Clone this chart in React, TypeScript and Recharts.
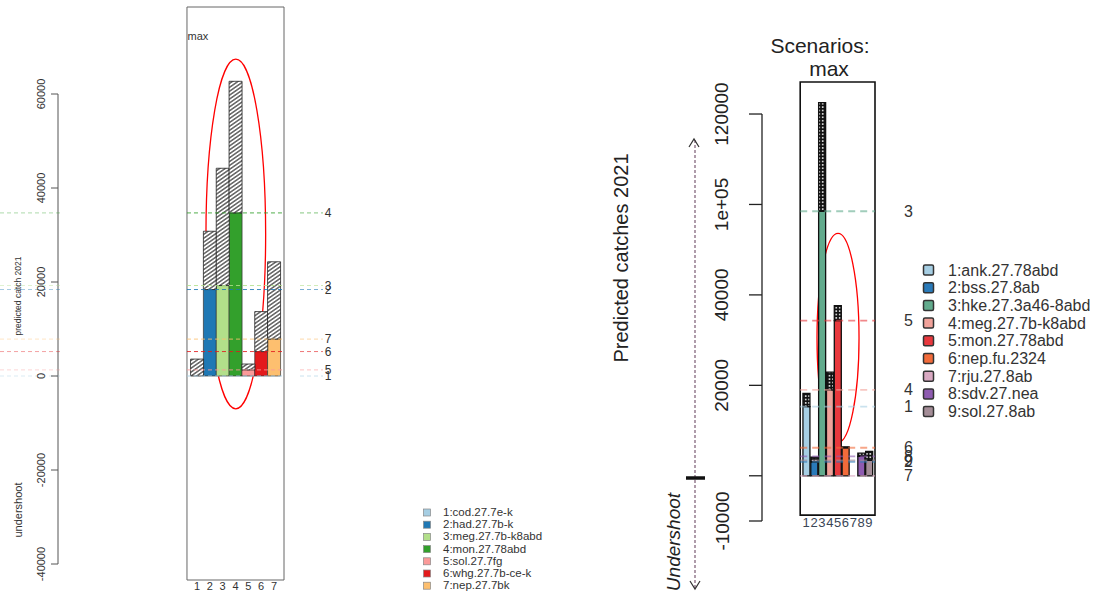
import React from "react";
import { BarChart, Bar, XAxis, YAxis, Cell, ReferenceLine, ReferenceArea } from "recharts";

const FONT = '"Liberation Sans", Arial, Helvetica, sans-serif';

// ---- left panel: Celtic Sea stocks ----
const leftStocks = ["cod.27.7e-k", "had.27.7b-k", "meg.27.7b-k8abd", "mon.27.78abd", "sol.27.7fg", "whg.27.7b-ce-k", "nep.27.7bk"];
const leftColors = ["#A6CEE3", "#1F78B4", "#B2DF8A", "#33A02C", "#FB9A99", "#E31A1C", "#FDBF6F"];
const leftAdvice = [0, 18400, 19250, 34700, 1300, 5200, 7850];
const leftPredicted = [3600, 30800, 44200, 62700, 2550, 13700, 24300];
const leftTicks = [-40000, -20000, 0, 20000, 40000, 60000];

// ---- right panel: Bay of Biscay stocks ----
const rightStocks = ["ank.27.78abd", "bss.27.8ab", "hke.27.3a46-8abd", "meg.27.7b-k8abd", "mon.27.78abd", "nep.fu.2324", "rju.27.8ab", "sdv.27.nea", "sol.27.8ab"];
const rightColors = ["#A6CEE3", "#2A7AB9", "#62AB8D", "#F1A29A", "#E8383D", "#F26B3A", "#D9A9C2", "#8E5BB0", "#A48D97"];
const rightAdvice = [15300, 3100, 98500, 19000, 34300, 6200, 0, 4300, 3400];
const rightPredicted = [18200, 4100, 122500, 22900, 37600, 6400, 0, 5000, 5400];
const rightTicks = [-10000, 0, 20000, 40000, 100000, 120000];
const rightTickLabels = ["-10000", "", "20000", "40000", "1e+05", "120000"];

// right y axis is broken: 40000..80000 is cut out
const GAP_FROM = 40000;
const GAP_SIZE = 40000;
const squeeze = (v: number) => (v > GAP_FROM ? v - GAP_SIZE : v);

// barplot layout (R: space = 0 on the left, space = 0.2 on the right)
const leftData = leftStocks.map((s, i) => ({
  x: i + 0.5,
  tick: String(i + 1),
  advice: leftAdvice[i],
  over: leftPredicted[i] - leftAdvice[i],
}));
const rightData = rightStocks.map((s, i) => ({
  x: 0.7 + 1.2 * i,
  tick: String(i + 1),
  advice: squeeze(rightAdvice[i]),
  over: squeeze(rightPredicted[i]) - squeeze(rightAdvice[i]),
}));

const LX: [number, number] = [-10.33, 7.28];
const LY: [number, number] = [-43404, 78511];
const LBOX: [number, number] = [-0.28, 7.28];
const RX: [number, number] = [-6.07, 11.224];
const RY: [number, number] = [-10000, 87080];
const RBOX: [number, number] = [-0.224, 11.224];

const LeftYTick = (props: any) => {
  const { x, y, payload } = props;
  const tx = x - 3.5;
  return (
    <text x={tx} y={y} transform={`rotate(-90 ${tx} ${y})`} textAnchor="middle" fontSize={11} fill="#333" fontFamily={FONT}>
      {payload.value}
    </text>
  );
};

const LeftXTick = (props: any) => {
  const { x, y, payload } = props;
  const d = leftData.find((r) => Math.abs(r.x - payload.value) < 1e-6);
  return (
    <text x={x} y={y + 8} textAnchor="middle" fontSize={11} fill="#333" fontFamily={FONT}>
      {d ? d.tick : ""}
    </text>
  );
};

const RightYTick = (props: any) => {
  const { x, y, payload } = props;
  const idx = rightTicks.findIndex((t) => squeeze(t) === payload.value);
  const tx = x - 18.5;
  return (
    <text x={tx} y={y} transform={`rotate(-90 ${tx} ${y})`} textAnchor="middle" fontSize={19} fill="#222" fontFamily={FONT}>
      {idx >= 0 ? rightTickLabels[idx] : ""}
    </text>
  );
};

const RightXTick = (props: any) => {
  const { x, y, payload } = props;
  const d = rightData.find((r) => Math.abs(r.x - payload.value) < 1e-6);
  return (
    <text x={x} y={y + 4} textAnchor="middle" fontSize={13} fill="#3a4656" fontFamily={FONT}>
      {d ? d.tick : ""}
    </text>
  );
};

// number tag to the right of each advice line (left panel also has short dashes outside)
const leftTag = (num: string, color: string) => (p: any) => {
  const vb = p.viewBox || {};
  const end = vb.x + vb.width;
  return (
    <g>
      <line x1={0} x2={62} y1={vb.y} y2={vb.y} stroke={color} strokeOpacity={0.4} strokeDasharray="4 3" />
      <line x1={end + 16} x2={end + 39} y1={vb.y} y2={vb.y} stroke={color} strokeOpacity={0.6} strokeDasharray="4 3" />
      <text x={end + 44} y={vb.y + 4} textAnchor="middle" fontSize={12} fill="#333" fontFamily={FONT}>
        {num}
      </text>
    </g>
  );
};

const rightTag = (num: string) => (p: any) => {
  const vb = p.viewBox || {};
  const end = vb.x + vb.width;
  return (
    <text x={end + 33.5} y={vb.y + 5.5} textAnchor="middle" fontSize={16} fill="#333" fontFamily={FONT}>
      {num}
    </text>
  );
};

const ellipseShape = (p: any) => (
  <ellipse cx={p.x + p.width / 2} cy={p.y + p.height / 2} rx={p.width / 2} ry={p.height / 2} fill="none" stroke="#FF0000" strokeWidth={1.3} />
);

function LeftPanel() {
  return (
    <div style={{ position: "absolute", left: 0, top: 0 }}>
      <BarChart width={345} height={604} data={leftData} margin={{ top: 7, right: 61, bottom: 4, left: 0 }} barCategoryGap={0}>
        <defs>
          <pattern id="hatchL" patternUnits="userSpaceOnUse" width="4" height="3.2" patternTransform="rotate(-35)">
            <rect width="4" height="3.2" fill="#fff" />
            <line x1="0" y1="1.6" x2="4" y2="1.6" stroke="#111" strokeWidth="1" />
          </pattern>
        </defs>
        <XAxis type="number" dataKey="x" domain={LX} ticks={leftData.map((d) => d.x)} allowDataOverflow axisLine={false} tickLine={false} tickSize={0} height={20} interval={0} tick={LeftXTick} />
        <YAxis type="number" domain={LY} ticks={leftTicks} allowDataOverflow axisLine={false} tickLine={{ stroke: "#555" }} tickSize={7} width={58} interval={0} tick={LeftYTick} />
        <ReferenceArea x1={LBOX[0]} x2={LBOX[1]} y1={LY[0]} y2={LY[1]} fill="none" stroke="#666" strokeWidth={1} ifOverflow="visible" />
        <ReferenceLine segment={[{ x: LX[0], y: leftTicks[0] }, { x: LX[0], y: leftTicks[leftTicks.length - 1] }]} stroke="#555" ifOverflow="visible" />
        <Bar dataKey="advice" stackId="s" stroke="#333" strokeWidth={0.7} isAnimationActive={false}>
          {leftData.map((d, i) => (
            <Cell key={`la-${i}`} fill={leftColors[i]} />
          ))}
        </Bar>
        <Bar dataKey="over" stackId="s" fill="url(#hatchL)" stroke="#222" strokeWidth={0.8} isAnimationActive={false} />
        {leftAdvice.map((v, i) => (
          <ReferenceLine
            key={`ll-${i}`}
            segment={[{ x: LBOX[0], y: v }, { x: LBOX[1], y: v }]}
            stroke={leftColors[i]}
            strokeOpacity={0.85}
            strokeDasharray="4 3"
            ifOverflow="visible"
            label={leftTag(String(i + 1), leftColors[i])}
          />
        ))}
        <ReferenceArea x1={1.2} x2={5.85} y1={-7000} y2={67400} shape={ellipseShape} ifOverflow="visible" />
      </BarChart>
    </div>
  );
}

function RightPanel() {
  return (
    <div style={{ position: "absolute", left: 600, top: 0 }}>
      <BarChart width={500} height={604} data={rightData} margin={{ top: 82, right: 225, bottom: 63, left: 0 }} barCategoryGap="8%">
        <defs>
          <pattern id="dotsR" patternUnits="userSpaceOnUse" width="3.4" height="3.4">
            <rect width="3.4" height="3.4" fill="#111" />
            <circle cx="1.7" cy="1.7" r="0.95" fill="#fff" />
          </pattern>
        </defs>
        <XAxis type="number" dataKey="x" domain={RX} ticks={rightData.map((d) => d.x)} allowDataOverflow axisLine={false} tickLine={false} tickSize={0} height={20} interval={0} tick={RightXTick} />
        <YAxis type="number" domain={RY} ticks={rightTicks.map(squeeze)} allowDataOverflow axisLine={false} tickLine={{ stroke: "#222", strokeWidth: 1.3 }} tickSize={13} width={162} interval={0} tick={RightYTick} />
        <ReferenceArea x1={RBOX[0]} x2={RBOX[1]} y1={-8700} y2={RY[1]} fill="none" stroke="#111" strokeWidth={1.6} ifOverflow="visible" />
        <ReferenceLine segment={[{ x: RX[0], y: squeeze(rightTicks[0]) }, { x: RX[0], y: squeeze(rightTicks[rightTicks.length - 1]) }]} stroke="#222" strokeWidth={1.3} ifOverflow="visible" />
        <Bar dataKey="advice" stackId="s" stroke="#111" strokeWidth={1.3} isAnimationActive={false}>
          {rightData.map((d, i) => (
            <Cell key={`ra-${i}`} fill={rightColors[i]} />
          ))}
        </Bar>
        <Bar dataKey="over" stackId="s" fill="url(#dotsR)" stroke="#111" strokeWidth={1.3} isAnimationActive={false} />
        {rightAdvice.map((v, i) => (
          <ReferenceLine
            key={`rl-${i}`}
            segment={[{ x: RBOX[0], y: squeeze(v) }, { x: RBOX[1], y: squeeze(v) }]}
            stroke={rightColors[i]}
            strokeOpacity={0.6}
            strokeWidth={1.8}
            strokeDasharray="7 5"
            ifOverflow="visible"
            label={rightTag(String(i + 1))}
          />
        ))}
        <ReferenceArea x1={2.35} x2={8.78} y1={7370} y2={squeeze(93600)} shape={ellipseShape} ifOverflow="visible" />
      </BarChart>
    </div>
  );
}

function Overlay() {
  const rot = (x: number, y: number) => `rotate(-90 ${x} ${y})`;
  return (
    <svg width={1100} height={604} style={{ position: "absolute", left: 0, top: 0, pointerEvents: "none" }} fontFamily={FONT}>
      {/* left panel texts */}
      <text x={187.5} y={40} fontSize={11} fill="#333">max</text>
      <text x={21} y={296} transform={rot(21, 296)} textAnchor="middle" fontSize={8.5} fill="#333">predicted catch 2021</text>
      <text x={22} y={510} transform={rot(22, 510)} textAnchor="middle" fontSize={11} fill="#333">undershoot</text>
      {leftStocks.map((s, i) => (
        <g key={`lg-${i}`}>
          <rect x={423.5} y={509 + 12.2 * i} width={7} height={7} fill={leftColors[i]} stroke="#888" strokeWidth={0.7} />
          <text x={443} y={516 + 12.2 * i} fontSize={11.5} fill="#333">{`${i + 1}:${s}`}</text>
        </g>
      ))}

      {/* right panel texts */}
      <text x={820} y={53} textAnchor="middle" fontSize={21} fill="#222">Scenarios:</text>
      <text x={829} y={76} textAnchor="middle" fontSize={21} fill="#222">max</text>
      <text x={628} y={258} transform={rot(628, 258)} textAnchor="middle" fontSize={20} fill="#222">Predicted catches 2021</text>
      <line x1={695} y1={140} x2={695} y2={588} stroke="#7b5a72" strokeWidth={1.2} strokeDasharray="3 2" />
      <polyline points="689,147 694,139 699,147" fill="none" stroke="#333" strokeWidth={1.2} />
      <polyline points="690,581 695,589 700,581" fill="none" stroke="#333" strokeWidth={1.2} />
      <line x1={686} y1={478} x2={705} y2={478} stroke="#111" strokeWidth={3.5} />
      <text x={680} y={542} transform={rot(680, 542)} textAnchor="middle" fontSize={19} fontStyle="italic" fill="#222">Undershoot</text>
      {rightStocks.map((s, i) => (
        <g key={`rg-${i}`}>
          <rect x={923.5} y={265 + 17.7 * i} width={10} height={10} rx={1.5} fill={rightColors[i]} stroke="#333" strokeWidth={1.5} />
          <text x={948} y={275.5 + 17.7 * i} fontSize={16} fill="#333">{`${i + 1}:${s}`}</text>
        </g>
      ))}
    </svg>
  );
}

export default function App() {
  return (
    <div style={{ position: "absolute", left: 0, top: 0, width: 1100, height: 604, background: "#fff", fontFamily: FONT, overflow: "hidden" }}>
      <LeftPanel />
      <RightPanel />
      <Overlay />
    </div>
  );
}
